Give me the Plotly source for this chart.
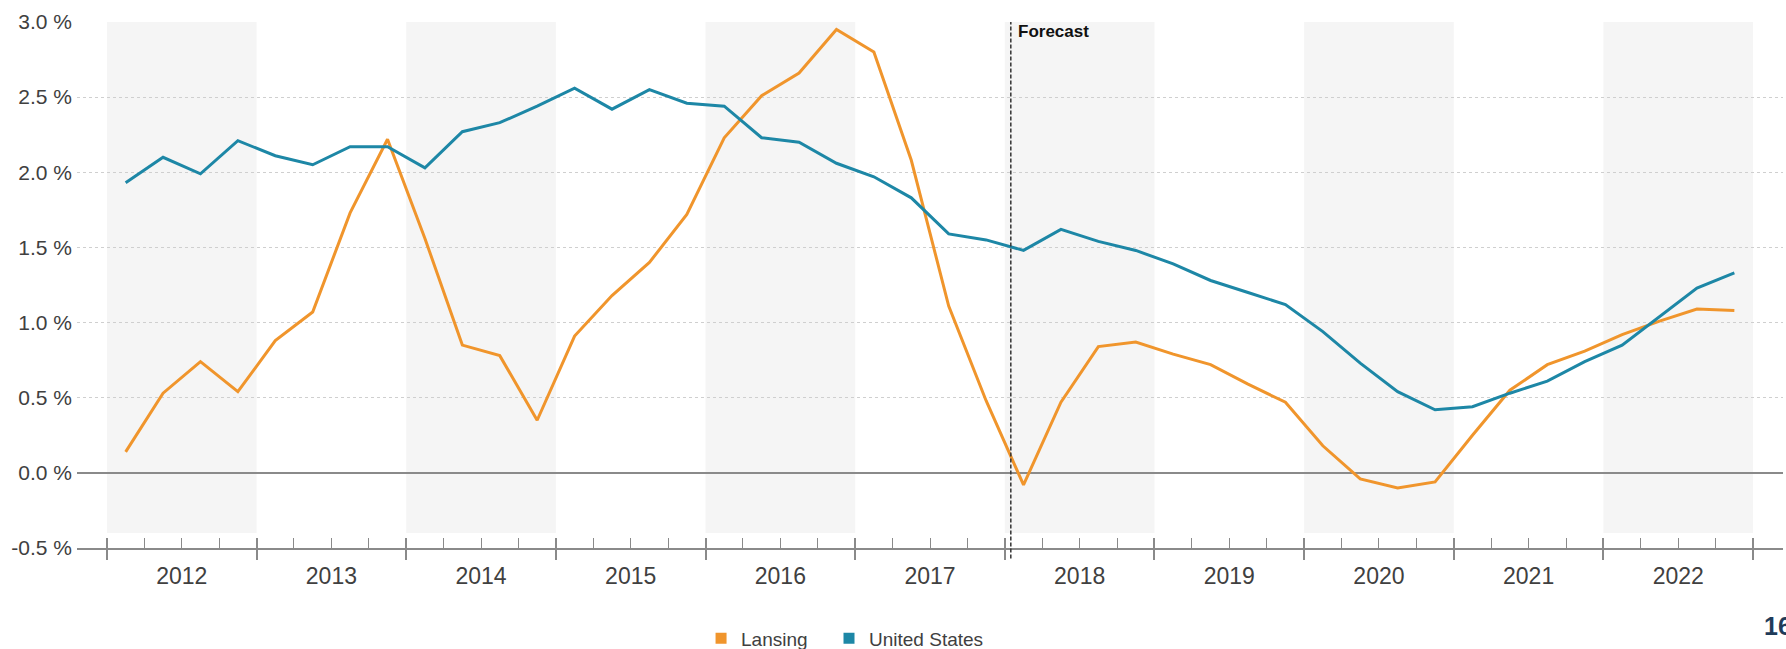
import plotly.graph_objects as go

# ---- data ----
years = list(range(2012, 2023))
quarters = [f"{y}Q{q}" for y in years for q in range(1, 5)]
lansing = [0.14, 0.53, 0.74, 0.54, 0.88, 1.07, 1.73, 2.22, 1.56, 0.85, 0.78, 0.35,
           0.91, 1.18, 1.40, 1.72, 2.23, 2.51, 2.66, 2.95, 2.80, 2.08, 1.11, 0.48,
           -0.08, 0.47, 0.84, 0.87, 0.79, 0.72, 0.59, 0.47, 0.18, -0.04, -0.10, -0.06,
           0.25, 0.55, 0.72, 0.81, 0.92, 1.01, 1.09, 1.08]
united_states = [1.93, 2.10, 1.99, 2.21, 2.11, 2.05, 2.17, 2.17, 2.03, 2.27, 2.33, 2.44,
                 2.56, 2.42, 2.55, 2.46, 2.44, 2.23, 2.20, 2.06, 1.97, 1.83, 1.59, 1.55,
                 1.48, 1.62, 1.54, 1.48, 1.39, 1.28, 1.20, 1.12, 0.94, 0.73, 0.54, 0.42,
                 0.44, 0.53, 0.61, 0.74, 0.85, 1.04, 1.23, 1.33]
shaded_years = [2012, 2014, 2016, 2018, 2020, 2022]
forecast_start = 2018.04
y_ticks = [-0.5, 0.0, 0.5, 1.0, 1.5, 2.0, 2.5, 3.0]

# quarter label -> decimal position (mid-quarter)
x = [int(p[:4]) + (int(p[-1]) - 0.5) / 4 for p in quarters]

ORANGE = "#F0952C"
BLUE = "#1D87A6"
AXIS = "#8a8a8a"
TXT = "#404040"
FONT = "Arial, Liberation Sans, sans-serif"
XR = [2011.8, 2023.2]

fig = go.Figure()
fig.add_trace(go.Scatter(x=x, y=lansing, mode="lines", line=dict(color=ORANGE, width=3),
                         showlegend=False, hoverinfo="skip"))
fig.add_trace(go.Scatter(x=x, y=united_states, mode="lines", line=dict(color=BLUE, width=3),
                         showlegend=False, hoverinfo="skip"))
# legend entries (square swatches)
fig.add_trace(go.Scatter(x=[None], y=[None], mode="markers", name="Lansing", legend="legend",
                         marker=dict(symbol="square", size=11, color=ORANGE)))
fig.add_trace(go.Scatter(x=[None], y=[None], mode="markers", name="United States", legend="legend2",
                         marker=dict(symbol="square", size=11, color=BLUE)))
# helper empty traces so overlay axes render
fig.add_trace(go.Scatter(x=[], y=[], xaxis="x2", showlegend=False, hoverinfo="skip"))
fig.add_trace(go.Scatter(x=[], y=[], xaxis="x3", showlegend=False, hoverinfo="skip"))

for yr in shaded_years:
    fig.add_shape(type="rect", xref="x", yref="y", x0=yr, x1=yr + 1, y0=-0.4, y1=3.0,
                  fillcolor="#f5f5f5", line=dict(width=0), layer="below")

fig.add_shape(type="line", xref="x", yref="paper", x0=forecast_start, x1=forecast_start,
              y0=-0.02, y1=1, line=dict(color="#333333", width=1.5, dash="4px,2px"))
fig.add_annotation(x=forecast_start, y=1, xref="x", yref="paper", xanchor="left", yanchor="top",
                   xshift=5, yshift=2, text="<b>Forecast</b>", showarrow=False,
                   font=dict(family=FONT, size=17, color="#111111"))
fig.add_annotation(x=0.9877, y=-0.1486, xref="paper", yref="paper", xanchor="left", yanchor="middle",
                   text="<b>16</b>", showarrow=False,
                   font=dict(family=FONT, size=25, color="#1f3b5a"))

boundaries = list(range(2012, 2024))
mids = [y + 0.5 for y in years]

legend_common = dict(orientation="h", xanchor="left", y=-0.172, yanchor="middle",
                     font=dict(family=FONT, size=19, color=TXT), bgcolor="rgba(0,0,0,0)")

fig.update_layout(
    width=1786, height=649,
    margin=dict(l=77, r=3, t=22, b=101, autoexpand=False),
    paper_bgcolor="white", plot_bgcolor="white",
    font=dict(family=FONT, color=TXT),
    xaxis=dict(range=XR, tickmode="array", tickvals=boundaries, showticklabels=False,
               ticks="outside", ticklen=10, tickwidth=2, tickcolor=AXIS, automargin=False,
               showline=True, linecolor=AXIS, linewidth=2, showgrid=False, zeroline=False,
               minor=dict(tickmode="linear", tick0=2012, dtick=0.25, ticks="inside",
                          ticklen=10, tickwidth=1, tickcolor=AXIS, showgrid=False)),
    xaxis2=dict(range=XR, overlaying="x", anchor="y", side="bottom", tickmode="array",
                tickvals=boundaries, showticklabels=False, ticks="inside", ticklen=10,
                tickwidth=2, tickcolor=AXIS, showline=False, showgrid=False, zeroline=False,
                automargin=False),
    xaxis3=dict(range=XR, overlaying="x", anchor="y", side="bottom", tickmode="array",
                tickvals=mids, ticktext=[str(y) for y in years], ticks="outside", ticklen=7,
                tickcolor="rgba(0,0,0,0)", showline=False, showgrid=False, zeroline=False,
                automargin=False, tickfont=dict(family=FONT, size=23, color=TXT)),
    yaxis=dict(range=[-0.5, 3.0], tickmode="array", tickvals=y_ticks,
               ticktext=[f"{v:.1f} %" for v in y_ticks], automargin=False,
               tickfont=dict(family=FONT, size=21, color=TXT),
               showgrid=True, gridcolor="#cfcfcf", griddash="dot", gridwidth=1,
               zeroline=True, zerolinecolor=AXIS, zerolinewidth=2,
               showline=False, ticks="", ticklabelstandoff=4),
    legend=dict(x=0.3658, **legend_common),
    legend2=dict(x=0.4408, **legend_common),
)

fig.write_html("out.html", config={"displayModeBar": False},
               post_script="document.body.style.margin='0';document.body.style.overflow='hidden';")
